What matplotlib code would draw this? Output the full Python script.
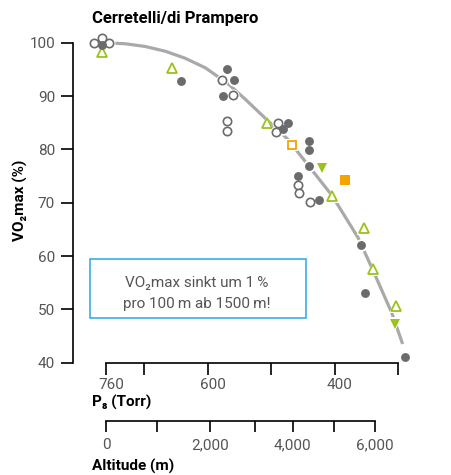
import matplotlib
matplotlib.use("Agg")
import matplotlib.pyplot as plt
from matplotlib.patches import Rectangle
from matplotlib.transforms import ScaledTranslation

plt.rcParams['font.family'] = ['Roboto', 'DejaVu Sans']

# ---------------- data (pressure in Torr, VO2max in %) ----------------
curve_P = [765, 730, 699, 667, 636, 604, 568, 541, 510, 474, 441, 404, 363, 340, 310, 293]
curve_V = [100.0, 99.8, 99.3, 98.4, 97.1, 95.3, 92.3, 89.4, 85.9, 81.9, 76.9, 71.3, 63.4, 57.4, 49.3, 43.5]

open_circ_P = [779, 766, 755, 578, 561, 570, 570, 490, 493, 458, 456, 439]
open_circ_V = [99.9, 100.9, 99.9, 93.0, 90.2, 85.4, 83.5, 85.0, 83.2, 73.3, 71.8, 70.1]

filled_circ_P = [767, 643, 570, 558, 576, 474, 481, 440, 440, 441, 458, 424, 359, 352, 290]
filled_circ_V = [99.6, 92.8, 95.0, 93.1, 90.1, 84.9, 83.9, 81.6, 79.8, 76.9, 75.0, 70.5, 62.0, 53.1, 41.1]

open_tri_P = [766, 657, 507, 404, 354, 339, 304]
open_tri_V = [98.3, 95.3, 85.0, 71.3, 65.2, 57.6, 50.6]

filled_tri_P = [420, 305]
filled_tri_V = [76.6, 47.3]

open_sq_P = [467]
open_sq_V = [80.8]
filled_sq_P = [384]
filled_sq_V = [74.2]

y_ticks = [40, 50, 60, 70, 80, 90, 100]
p_ticks = [760, 700, 600, 500, 400, 300]
p_labels = ['760', '', '600', '', '400', '']
alt_ticks = [0, 1000, 2000, 3000, 4000, 5000, 6000]
alt_tick_P = [760, 680, 596, 526, 466, 401, 337]   # pressure position of each altitude tick
alt_labels = ['0', '', '2,000', '', '4,000', '', '6,000']

title = 'Cerretelli/di Prampero'
ylabel = 'VO\u2082max (%)'
plabel = 'P\u2088 (Torr)'
altlabel = 'Altitude (m)'
box_lines = ['VO\u2082max sinkt um 1\u2009%', 'pro 100\u2009m ab 1500\u2009m!']

# ---------------- colours ----------------
GRAY = '#6b6b6d'
LINE = '#a9a9a9'
GREEN = '#9cc21b'
ORANGE = '#f6a300'
BLUE = '#2aa8e0'
TXT = '#555555'

W, H = 452, 475
fig = plt.figure(figsize=(W / 100, H / 100), dpi=100)


def fx(px):
    return px / W


def fy(py):
    return 1 - py / H


XL = (812.4, 281.4)
ax = fig.add_axes([fx(73), fy(362.7), fx(410) - fx(73), fy(42.7) - fy(362.7)])
ax.set_xlim(*XL)
ax.set_ylim(40, 100)
ax.patch.set_alpha(0)

for s in ['top', 'right']:
    ax.spines[s].set_visible(False)
ax.spines['left'].set_bounds(40, 100)
ax.spines['bottom'].set_bounds(760, 300)
for s in ['left', 'bottom']:
    ax.spines[s].set_linewidth(1.2)
    ax.spines[s].set_color('black')

ax.set_yticks(y_ticks)
ax.set_yticklabels([str(v) for v in y_ticks])
ax.set_xticks(p_ticks)
ax.set_xticklabels(p_labels)
ax.tick_params(axis='y', direction='out', length=8.4, width=1.2, pad=4.5,
               labelsize=11, labelcolor=TXT)
ax.tick_params(axis='x', direction='out', length=8.6, width=1.2, pad=2.5,
               labelsize=11, labelcolor=TXT)
for lab in ax.get_xticklabels():
    lab.set_transform(lab.get_transform() + ScaledTranslation(5 / 100, 0, fig.dpi_scale_trans))

# curve
ax.plot(curve_P, curve_V, color=LINE, lw=2.3, zorder=1, solid_capstyle='butt',
        solid_joinstyle='round', clip_on=False)

groups = [
    (open_circ_P, open_circ_V, 'o', 6.0, 'white', GRAY, 1.2),
    (open_tri_P, open_tri_V, '^', 7.6, 'white', GREEN, 1.3),
    (open_sq_P, open_sq_V, 's', 6.4, 'white', ORANGE, 1.3),
    (filled_circ_P, filled_circ_V, 'o', 6.4, GRAY, GRAY, 0.0),
    (filled_tri_P, filled_tri_V, 'v', 7.6, GREEN, GREEN, 0.0),
    (filled_sq_P, filled_sq_V, 's', 6.6, ORANGE, ORANGE, 0.0),
]
for i, (P, V, m, ms, fc, ec, mew) in enumerate(groups):
    ax.plot(P, V, ls='none', marker=m, ms=ms + 2.6, mfc='white', mec='white', mew=0,
            zorder=2, clip_on=False)
for i, (P, V, m, ms, fc, ec, mew) in enumerate(groups):
    ax.plot(P, V, ls='none', marker=m, ms=ms, mfc=fc, mec=ec, mew=mew,
            zorder=3 + i, clip_on=False)

# altitude axis
ax2 = fig.add_axes([fx(73), fy(421), fx(410) - fx(73), 0.0005])
ax2.set_xlim(*XL)
ax2.patch.set_alpha(0)
for s in ['top', 'right', 'left']:
    ax2.spines[s].set_visible(False)
ax2.spines['bottom'].set_bounds(alt_tick_P[0], alt_tick_P[-1])
ax2.spines['bottom'].set_linewidth(1.2)
ax2.set_yticks([])
ax2.set_xticks(alt_tick_P)
ax2.set_xticklabels(alt_labels)
ax2.tick_params(axis='x', direction='out', length=8.0, width=1.2, pad=4.5,
                labelsize=11, labelcolor=TXT)

# texts
fig.text(fx(92), fy(19), title, fontsize=12, fontweight='bold', ha='left', va='center')
fig.text(fx(20), fy(200), ylabel, fontsize=11, fontweight='bold', rotation=90,
         ha='center', va='center')
fig.text(fx(92), fy(402), plabel, fontsize=11, fontweight='bold', ha='left', va='center')
fig.text(fx(92), fy(466), altlabel, fontsize=11, fontweight='bold', ha='left', va='center')

# info box
fig.patches.append(Rectangle((fx(90), fy(317.7)), fx(306) - fx(90), fy(259) - fy(317.7),
                             transform=fig.transFigure, facecolor='white',
                             edgecolor=BLUE, lw=1.1, zorder=0))
fig.text(fx(197), fy(283), box_lines[0], fontsize=11, color=TXT, ha='center', va='center')
fig.text(fx(197), fy(304), box_lines[1], fontsize=11, color=TXT, ha='center', va='center')

fig.savefig('out.png', dpi=100)
